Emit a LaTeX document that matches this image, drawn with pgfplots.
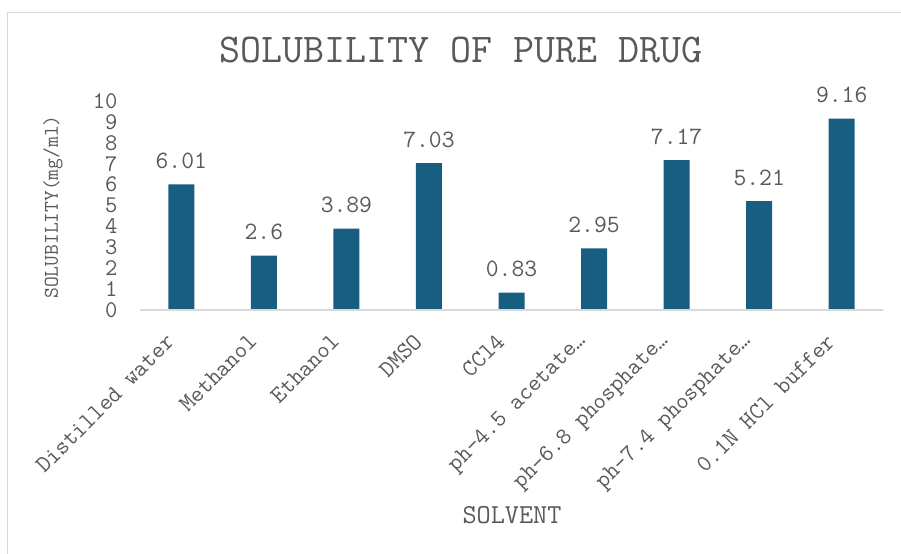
\documentclass[border=0pt]{standalone}
\usepackage{pgfplots}
\pgfplotsset{compat=1.18}
\renewcommand{\familydefault}{\ttdefault}
\definecolor{barblue}{RGB}{23,94,128}
\definecolor{txtgray}{RGB}{89,89,89}
\definecolor{linegray}{RGB}{217,217,217}
\begin{document}
\begin{tikzpicture}[x=1bp,y=1bp]
\useasboundingbox (0,0) rectangle (901,554);
% chart frame (left and top edges)
\draw[linegray, line width=1.5bp] (7.5,0) -- (7.5,541.5) -- (901,541.5);
\begin{axis}[
  at={(140bp,244bp)}, anchor=south west,
  scale only axis, width=743bp, height=209bp,
  xmin=-0.5, xmax=8.5, ymin=0, ymax=10,
  axis line style={draw=none},
  ytick={0,1,...,10},
  xtick=data,
  xticklabels={Distilled water,Methanol,Ethanol,DMSO,CCl4,ph-4.5 acetate…,ph-6.8 phosphate…,ph-7.4 phosphate…,0.1N HCl buffer},
  tick style={draw=none},
  /pgf/number format/assume math mode=true,
  yticklabel style={font=\fontsize{24}{26}\selectfont, text=txtgray, xshift=-19bp},
  xticklabel style={font=\fontsize{24}{26}\selectfont, text=txtgray,
    inner sep=0pt, xshift=-11bp, yshift=-28bp, rotate=45, anchor=east},
  clip=false,
  nodes near coords,
  point meta=explicit symbolic,
  every node near coord/.append style={font=\fontsize{25}{27}\selectfont, text=txtgray, yshift=12bp},
]
\addplot[ybar, bar width=26bp, fill=barblue, draw=none] table[x=x, y=y, meta=lab] {
x y lab
0 6.01 6.01
1 2.6 2.6
2 3.89 3.89
3 7.03 7.03
4 0.83 0.83
5 2.95 2.95
6 7.17 7.17
7 5.21 5.21
8 9.16 9.16
};
\draw[linegray, line width=1.2bp] (axis cs:-0.5,0) -- (axis cs:8.5,0);
\end{axis}
\node[text=txtgray, font=\fontsize{41}{44}\selectfont] at (461,504) {SOLUBILITY OF PURE DRUG};
\node[text=txtgray, font=\fontsize{21}{23}\selectfont, rotate=90] at (53,347) {SOLUBILITY(mg/ml)};
\node[text=txtgray, font=\fontsize{27.5}{29}\selectfont] at (512,39) {SOLVENT};
\end{tikzpicture}
\end{document}
